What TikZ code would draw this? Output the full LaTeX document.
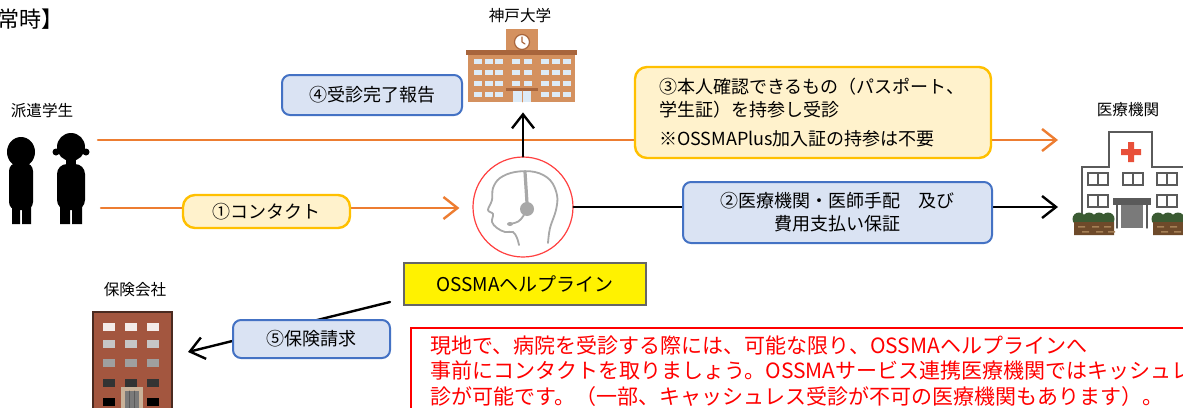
\documentclass[tikz,border=0pt]{standalone}
\usepackage{fontspec}
\setmainfont{Noto Sans CJK JP}
\usetikzlibrary{arrows.meta}

\definecolor{floworange}{HTML}{ED7D31}
\definecolor{boxblue}{HTML}{4472C4}
\definecolor{boxbluefill}{HTML}{DAE3F3}
\definecolor{boxgold}{HTML}{FFC000}
\definecolor{boxyellow}{HTML}{FFF2CC}
\definecolor{unibrown}{HTML}{D4915F}
\definecolor{unidark}{HTML}{A8653C}
\definecolor{winblue}{HTML}{DDEBF7}
\definecolor{hospline}{HTML}{5A5A5A}
\definecolor{doorgray}{HTML}{7A7A7A}
\definecolor{crossred}{HTML}{E8503A}
\definecolor{bushgreen}{HTML}{3B5B33}
\definecolor{soilbrown}{HTML}{6E4A2A}
\definecolor{soillight}{HTML}{A57F55}
\definecolor{brick}{HTML}{A3563F}
\definecolor{brickdark}{HTML}{4A2A20}
\definecolor{icongray}{HTML}{A8A8A8}

\newcommand{\boxfont}{\fontsize{9}{11.5}\selectfont}
\newcommand{\tagfont}{\fontsize{7.8}{9}\selectfont}
\newcommand{\notefont}{\fontsize{10.5}{12.7}\selectfont}

\tikzset{
  bluebox/.style={draw=boxblue, fill=boxbluefill, line width=1pt, rounded corners=4pt, inner sep=0pt, align=center, font=\boxfont},
  goldbox/.style={draw=boxgold, fill=boxyellow, line width=1.2pt, rounded corners=6pt, inner sep=0pt, font=\boxfont},
  tag/.style={font=\tagfont, inner sep=0pt},
  area/.style={inner sep=0pt, minimum width=#1},
  flow/.style={line width=1.2pt, -{Straight Barb[length=7pt, width=11pt]}}
}

\begin{document}
\begin{tikzpicture}[x=0.5pt, y=-0.5pt, line cap=round]
            \useasboundingbox (0,0) rectangle (1183,407);
            \clip (0,0) rectangle (1183,407);
            \fill[white] (0,0) rectangle (1183,407);

            \node[anchor=base east, inner sep=0pt, font=\fontsize{11}{13}\selectfont] (title) at (64,27) {【平常時】};

            % labels above the icons
            \node[tag] (stuLabel) at (42,111) {派遣学生};
            \node[tag] (uniLabel) at (520,16) {神戸大学};
            \node[tag] (hospLabel) at (1128,110) {医療機関};
            \node[tag] (insLabel) at (135,290) {保険会社};

            % students
            \fill[black] (21,152) ellipse (14 and 15);
            \fill[black, rounded corners=4pt] (9,163) rectangle (33,210);
            \fill[black] (12,200) rectangle (20,224) (22,200) rectangle (31,224);
            \fill[black] (71,147) circle (14);
            \fill[black] (56,152) circle (3.5) (86,152) circle (3.5);
            \fill[black] (66,158) rectangle (76,168);
            \fill[black, rounded corners=5pt] (57,164) rectangle (85,210);
            \fill[black] (60,200) rectangle (70,224) (72,200) rectangle (82,224);
            \node[area=45pt, minimum height=45pt] (students) at (46,180) {};

            % university
            \node[area=55.5pt, minimum height=36.5pt] (univ) at (522,65.5) {};
            \fill[unibrown] (468,55) rectangle (575,102);
            \fill[unidark] (466,50) rectangle (577,55);
            \fill[unibrown] (506,29) rectangle (538,50);
            \filldraw[fill=white, draw=unidark, line width=0.6pt] (522,42) circle (7.5);
            \draw[unidark, line width=0.6pt] (522,42) -- (522,37) (522,42) -- (525,44);
            \foreach \wx in {478,489,499,545,556,567}
                \foreach \wy in {61,72,83,94}
                    \fill[winblue] (\wx-4,\wy-2.5) rectangle (\wx+4,\wy+2.5);
            \foreach \wx in {516,528}
                \foreach \wy in {61,72,83}
                    \fill[winblue] (\wx-4,\wy-2.5) rectangle (\wx+4,\wy+2.5);
            \fill[unidark] (506,88) rectangle (538,91);
            \fill[winblue] (513,91) rectangle (531,102);
            \draw[unibrown, line width=0.4pt] (522,91) -- (522,102);

            % hospital
            \node[area=54pt, minimum height=51.5pt] (hospital) at (1129,183) {};
            \filldraw[fill=white, draw=hospline, line width=1pt] (1082,228) -- (1082,167) -- (1109,167) -- (1109,132) -- (1152,132) -- (1152,167) -- (1200,167) -- (1200,228);
            \fill[crossred] (1121,149) rectangle (1141,155) (1128,142) rectangle (1134,162);
            \foreach \wx in {1088,1123,1157}
                \draw[hospline, line width=0.7pt] (\wx,173) rectangle ++(20,12) (\wx+10,173) -- ++(0,12);
            \foreach \wx in {1088,1157}
                \draw[hospline, line width=0.7pt] (\wx,195) rectangle ++(20,12) (\wx+10,195) -- ++(0,12);
            \fill[hospline] (1113,198) rectangle (1151,205);
            \fill[doorgray] (1121,205) rectangle (1143,228);
            \draw[hospline, line width=0.7pt] (1117,205) -- (1117,228) (1147,205) -- (1147,228);
            \foreach \bx in {1079,1089,1099,1108,1158,1168,1178,1188}
                \fill[bushgreen] (\bx,219) circle (6.5);
            \fill[soilbrown] (1074,222) rectangle (1114,235) (1153,222) rectangle (1195,235);
            \foreach \sx in {1078,1092,1104,1157,1170,1183}
                \fill[soillight] (\sx,226) rectangle ++(7,1.5) (\sx+4,231) rectangle ++(7,1.5);

            % insurance company
            \node[area=39.5pt, minimum height=48pt] (insurer) at (132.5,360) {};
            \fill[brick] (93,312) rectangle (172,420);
            \draw[brickdark, line width=1pt] (93,420) -- (93,312) -- (172,312) -- (172,420);
            \foreach \wy/\wc in {323/white!88!brick, 340/gray!45, 359/gray!75, 379/black!80, 398/black}
                \foreach \wx in {103,125,147}
                    \fill[\wc] (\wx,\wy) rectangle ++(12,8);
            \fill[soillight!60!white] (121,387) rectangle (143,412);
            \fill[doorgray] (125,391) rectangle (139,412);
            \draw[hospline, line width=0.4pt] (129,391) -- (129,412) (134,391) -- (134,412);

            % helpline operator
            \node[circle, draw=red!75, line width=0.6pt, fill=white, minimum size=50pt, inner sep=0pt] (icon) at (523,207) {};
            \begin{scope}[shift={(icon.center)}, icongray, line width=0.9pt]
                \draw plot[smooth, tension=0.6] coordinates {(25,36) (27,21) (33,3) (34,-12) (27,-27) (12,-35) (-8,-35) (-23,-29) (-30,-19) (-31,-7) (-35,3) (-30,7) (-31,15) (-26,21) (-18,25) (-10,25) (-6,31) (-4,38)};
                \draw[line width=1.6pt] (2,-35) -- (4,-4);
                \fill (4,2) circle (7);
                \draw (1,8) .. controls (-4,15) .. (-13,17);
                \fill (-13,17) ellipse (3 and 2);
            \end{scope}

            \coordinate (stuTop) at (98,140);
            \coordinate (stuLow) at (101,208);
            \coordinate (hospTop) at (1058,140);
            \coordinate (hospLow) at (1058,207);
            \coordinate (claimFrom) at (390,302);
            \coordinate (claimTo) at (188,352);

            \draw[flow, floworange] (stuTop) -- (hospTop);
            \draw[flow, floworange, shorten >=6.5pt] (stuLow) -- (stuLow -| icon.west);
            \draw[flow, black, shorten >=5pt] (icon.north) -- (icon.north |- univ.south);
            \draw[flow, black] (icon.east) -- (hospLow);
            \draw[flow, black] (claimFrom) -- (claimTo);

            \node[bluebox, minimum width=90pt, minimum height=20pt] (report) at (372,95) {④受診完了報告};
            \node[goldbox, inner xsep=12pt, text width=154pt, minimum height=45.5pt, align=left] (visit) at (813,112.5)
                {③本人確認できるもの（パスポート、\\学生証）を持参し受診\\[3pt]※OSSMAPlus加入証の持参は不要};
            \node[goldbox, minimum width=83.5pt, minimum height=16.5pt] (contact) at (266.5,211.5) {①コンタクト};
            \node[bluebox, minimum width=154.5pt, minimum height=30.5pt] (arrange) at (837.5,212.5) {②医療機関・医師手配　及び\\費用支払い保証};
            \node[bluebox, minimum width=78.5pt, minimum height=19pt] (claim) at (311.5,339) {⑤保険請求};

            \node[draw=gray!80!black, fill=yellow, line width=0.6pt, minimum width=121pt, minimum height=21pt, inner sep=0pt, font=\fontsize{9.5}{11}\selectfont] (helpline) at (525,284) {OSSMAヘルプライン};

            \node[draw=red, line width=0.75pt, fill=white, text=red, anchor=north west, inner xsep=10pt, inner ysep=4pt, text width=420pt, align=left, font=\notefont] (note) at (410,327)
                {現地で、病院を受診する際には、可能な限り、OSSMAヘルプラインへ\\事前にコンタクトを取りましょう。OSSMAサービス連携医療機関ではキッシュレス受\\診が可能です。（一部、キャッシュレス受診が不可の医療機関もあります）。};
        \end{tikzpicture}
\end{document}
